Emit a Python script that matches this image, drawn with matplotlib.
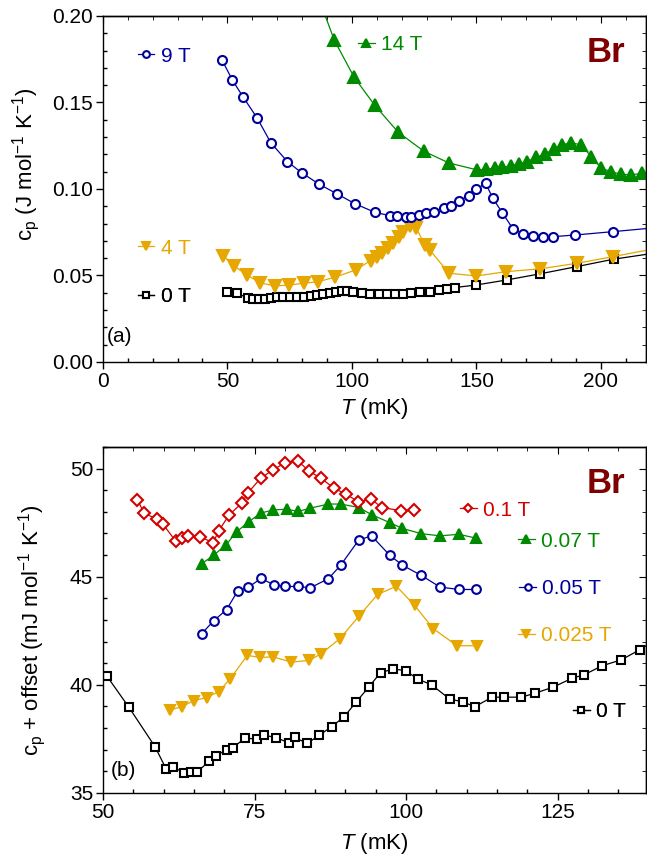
import matplotlib
matplotlib.use("Agg")
import matplotlib.pyplot as plt
from matplotlib.ticker import MultipleLocator, FormatStrFormatter

plt.rcParams['font.family'] = ['Liberation Sans', 'DejaVu Sans']
plt.rcParams['mathtext.fontset'] = 'custom'
plt.rcParams['mathtext.rm'] = 'Liberation Sans'
plt.rcParams['mathtext.it'] = 'Liberation Sans:italic'
plt.rcParams['axes.linewidth'] = 1.0

# (a) cp in J/mol/K versus T in mK
t_0T = [49.8, 54.0, 58.4, 60.4, 62.7, 65.1, 67.4, 69.8, 72.5, 75.1, 77.8, 80.8, 83.4,
        86.1, 88.5, 91.2, 93.6, 95.9, 98.1, 100.5, 103.9, 107.2, 110.8, 114.1, 117.2,
        120.6, 123.9, 127.3, 131.3, 135.0, 138.2, 141.3, 150.0, 162.2, 175.4, 190.3,
        205.1, 222.0]
cp_0T = [0.0406, 0.0397, 0.0368, 0.0362, 0.0362, 0.0362, 0.0372, 0.0374, 0.0378, 0.0378,
         0.0378, 0.0378, 0.0380, 0.0387, 0.0393, 0.0400, 0.0406, 0.0408, 0.0408, 0.0406,
         0.0400, 0.0395, 0.0393, 0.0393, 0.0395, 0.0395, 0.0400, 0.0406, 0.0406, 0.0416,
         0.0420, 0.0430, 0.0445, 0.0474, 0.0509, 0.0551, 0.0594, 0.0630]

t_4T = [48.4, 52.7, 57.8, 63.1, 69.1, 74.9, 80.8, 86.5, 93.2, 101.6, 107.5, 109.9, 111.9,
        114.5, 116.6, 119.0, 120.6, 123.2, 125.9, 129.3, 131.3, 139.0, 150.0, 162.0,
        175.4, 190.3, 205.0, 222.0]
cp_4T = [0.0613, 0.0555, 0.0503, 0.0458, 0.0439, 0.0445, 0.0455, 0.0464, 0.0490, 0.0532,
         0.0586, 0.0605, 0.0628, 0.0657, 0.0686, 0.0720, 0.0753, 0.0786, 0.0773, 0.0676,
         0.0647, 0.0513, 0.0497, 0.0522, 0.0538, 0.0570, 0.0609, 0.0656]

t_9T = [47.8, 52.0, 56.2, 62.0, 67.4, 74.1, 79.8, 86.9, 94.1, 101.2, 109.2, 115.2, 118.3,
        121.6, 123.6, 126.9, 129.9, 132.9, 136.9, 140.0, 143.0, 146.9, 150.0, 153.7,
        156.6, 160.4, 164.7, 168.7, 172.7, 176.7, 180.7, 189.8, 204.7, 222.0]
cp_9T = [0.1746, 0.1630, 0.1534, 0.1409, 0.1268, 0.1158, 0.1094, 0.1027, 0.0971, 0.0915,
         0.0865, 0.0846, 0.0844, 0.0836, 0.0840, 0.0850, 0.0860, 0.0869, 0.0892, 0.0904,
         0.0932, 0.0961, 0.0998, 0.1033, 0.0946, 0.0863, 0.0769, 0.0740, 0.0728, 0.0721,
         0.0724, 0.0734, 0.0753, 0.0776]

t_14T = [85.5, 92.9, 100.9, 109.2, 118.6, 128.9, 139.0, 150.3, 154.0, 157.3, 160.4, 164.0,
         167.3, 170.4, 174.0, 177.4, 181.0, 184.4, 188.0, 192.1, 196.1, 200.1, 204.1,
         208.1, 212.1, 216.7]
cp_14T = [0.215, 0.1861, 0.1646, 0.1483, 0.1328, 0.1218, 0.1150, 0.1110, 0.1114, 0.1120,
          0.1125, 0.1135, 0.1145, 0.1158, 0.1183, 0.1200, 0.1229, 0.1254, 0.1268, 0.1254,
          0.1187, 0.1120, 0.1100, 0.1085, 0.1081, 0.1091]

# (b) cp + offset in mJ/mol/K versus T in mK
tb_0T = [50.7, 54.3, 58.6, 60.4, 61.5, 63.4, 64.5, 65.6, 67.5, 68.6, 70.5, 71.5, 73.4,
         75.4, 76.6, 78.6, 80.7, 81.6, 83.7, 85.7, 87.7, 89.8, 91.8, 93.9, 95.8, 97.9,
         99.9, 101.9, 104.2, 107.2, 109.3, 111.3, 114.2, 116.2, 119.0, 121.2, 124.2,
         127.4, 129.3, 132.3, 135.5, 138.5, 141.5]
cb_0T = [40.39, 38.96, 37.14, 36.13, 36.21, 35.93, 35.98, 35.98, 36.47, 36.72, 37.01,
         37.09, 37.55, 37.48, 37.68, 37.55, 37.32, 37.57, 37.29, 37.68, 38.06, 38.53,
         39.22, 39.92, 40.57, 40.73, 40.66, 40.27, 40.00, 39.34, 39.22, 38.99, 39.43,
         39.43, 39.43, 39.61, 39.89, 40.31, 40.46, 40.88, 41.16, 41.62, 42.15]

tb_025T = [61.1, 63.0, 65.0, 67.1, 69.1, 71.0, 73.8, 75.9, 78.1, 81.1, 84.0, 86.0, 89.1,
           92.2, 95.3, 98.4, 101.4, 104.5, 108.4, 111.7]
cb_025T = [38.84, 38.99, 39.27, 39.41, 39.69, 40.28, 41.36, 41.27, 41.29, 41.05, 41.13,
           41.44, 42.14, 43.17, 44.18, 44.56, 43.67, 42.59, 41.81, 41.81]

tb_05T = [66.3, 68.3, 70.4, 72.2, 74.0, 76.1, 78.2, 80.1, 82.1, 84.2, 87.2, 89.2, 92.2,
          94.3, 97.3, 99.4, 102.5, 105.6, 108.7, 111.6]
cb_05T = [42.37, 42.97, 43.48, 44.33, 44.52, 44.92, 44.62, 44.55, 44.55, 44.49, 44.91,
          45.53, 46.70, 46.89, 45.99, 45.53, 45.06, 44.52, 44.41, 44.41]

tb_07T = [66.3, 68.3, 70.3, 72.1, 74.1, 76.0, 78.1, 80.3, 82.2, 84.2, 87.2, 89.2, 92.2,
          94.3, 97.3, 99.4, 102.5, 105.6, 108.7, 111.6]
cb_07T = [45.60, 46.00, 46.47, 47.09, 47.55, 47.94, 48.09, 48.12, 48.02, 48.17, 48.36,
          48.36, 48.20, 47.87, 47.50, 47.23, 46.99, 46.89, 46.96, 46.78]

tb_1T = [55.7, 56.8, 58.9, 59.9, 62.0, 63.0, 64.1, 66.0, 68.2, 69.1, 70.8, 72.9, 73.9,
         76.0, 78.1, 80.0, 82.1, 84.0, 86.0, 88.1, 90.1, 92.1, 94.2, 96.0, 99.2, 101.3]
cb_1T = [48.56, 47.94, 47.66, 47.43, 46.65, 46.78, 46.89, 46.84, 46.58, 47.12, 47.85,
         48.40, 48.87, 49.55, 49.95, 50.26, 50.37, 49.88, 49.55, 49.09, 48.82, 48.46,
         48.59, 48.20, 48.05, 48.08]

BLACK = 'black'
GOLD = '#e6a700'
BLUE = '#00009c'
GREEN = '#008a00'
RED = '#d40000'
DARKRED = '#7f0000'

fig = plt.figure(figsize=(6.47, 8.61), dpi=100)
ax1 = fig.add_axes([0.159, 0.5796, 0.839, 0.4019])
ax2 = fig.add_axes([0.159, 0.0790, 0.839, 0.4019])


def series(ax, t, c, color, marker, ms, filled, label):
    face = color if filled else 'white'
    line, = ax.plot(t, c, '-', color=color, lw=0.9, marker=marker, ms=ms,
                    mfc=face, mec=color, mew=1.5, label=label)
    return line


def tag(ax, line, x, y, fontsize=15):
    leg = ax.legend(handles=[line], loc='center left', bbox_to_anchor=(x, y),
                    frameon=False, handlelength=0.8, handletextpad=0.3,
                    borderpad=0, borderaxespad=0, numpoints=1, markerscale=0.75,
                    prop={'size': fontsize})
    for txt in leg.get_texts():
        txt.set_color(line.get_color())
    ax.add_artist(leg)


def style(ax, xmaj, xmin, ymaj, ymin):
    ax.xaxis.set_major_locator(MultipleLocator(xmaj))
    ax.xaxis.set_minor_locator(MultipleLocator(xmin))
    ax.yaxis.set_major_locator(MultipleLocator(ymaj))
    ax.yaxis.set_minor_locator(MultipleLocator(ymin))
    ax.tick_params(which='major', direction='out', length=5, width=1, labelsize=15,
                   pad=2)
    ax.tick_params(which='minor', direction='in', length=3, width=1)
    top = ax.secondary_xaxis('top')
    top.xaxis.set_major_locator(MultipleLocator(xmaj))
    top.xaxis.set_minor_locator(MultipleLocator(xmin))
    top.tick_params(which='major', direction='in', length=5, labeltop=False)
    top.tick_params(which='minor', direction='in', length=3, labeltop=False)
    right = ax.secondary_yaxis('right')
    right.yaxis.set_major_locator(MultipleLocator(ymaj))
    right.yaxis.set_minor_locator(MultipleLocator(ymin))
    right.tick_params(which='major', direction='in', length=5, labelright=False)
    right.tick_params(which='minor', direction='in', length=3, labelright=False)


# panel (a)
l0 = series(ax1, t_0T, cp_0T, BLACK, 's', 5.2, False, '0 T')
l4 = series(ax1, t_4T, cp_4T, GOLD, 'v', 8, True, '4 T')
l9 = series(ax1, t_9T, cp_9T, BLUE, 'o', 6.5, False, '9 T')
l14 = series(ax1, t_14T, cp_14T, GREEN, '^', 8, True, '14 T')
ax1.set_xlim(0, 218)
ax1.set_ylim(0, 0.20)
style(ax1, 50, 10, 0.05, 0.01)
ax1.yaxis.set_major_formatter(FormatStrFormatter('%.2f'))
ax1.set_xlabel(r'$\it{T}$ (mK)', fontsize=16, labelpad=4)
ax1.set_ylabel(r'c$_\mathrm{p}$ (J mol$^{-1}$ K$^{-1}$)', fontsize=16)
ax1.yaxis.set_label_coords(-0.113, 0.57)
tag(ax1, l9, 0.064, 0.884)
tag(ax1, l14, 0.470, 0.918)
tag(ax1, l4, 0.064, 0.329)
tag(ax1, l0, 0.064, 0.188)
ax1.text(0.927, 0.893, 'Br', transform=ax1.transAxes, color=DARKRED,
         fontsize=25, fontweight='bold', ha='center', va='center')
ax1.text(0.008, 0.075, '(a)', transform=ax1.transAxes, fontsize=15, va='center')

# panel (b)
m0 = series(ax2, tb_0T, cb_0T, BLACK, 's', 5.2, False, '0 T')
m025 = series(ax2, tb_025T, cb_025T, GOLD, 'v', 7.5, True, '0.025 T')
m05 = series(ax2, tb_05T, cb_05T, BLUE, 'o', 6.3, False, '0.05 T')
m07 = series(ax2, tb_07T, cb_07T, GREEN, '^', 7.5, True, '0.07 T')
m1 = series(ax2, tb_1T, cb_1T, RED, 'D', 5.8, False, '0.1 T')
ax2.set_xlim(50, 139.5)
ax2.set_ylim(35, 51)
style(ax2, 25, 5, 5, 1)
ax2.set_xlabel(r'$\it{T}$ (mK)', fontsize=16, labelpad=7)
ax2.set_ylabel(r'c$_\mathrm{p}$ + offset (mJ mol$^{-1}$ K$^{-1}$)', fontsize=16)
ax2.yaxis.set_label_coords(-0.102, 0.47)
tag(ax2, m1, 0.658, 0.817)
tag(ax2, m07, 0.765, 0.728)
tag(ax2, m05, 0.767, 0.591)
tag(ax2, m025, 0.765, 0.455)
tag(ax2, m0, 0.866, 0.235)
ax2.text(0.926, 0.895, 'Br', transform=ax2.transAxes, color=DARKRED,
         fontsize=25, fontweight='bold', ha='center', va='center')
ax2.text(0.014, 0.065, '(b)', transform=ax2.transAxes, fontsize=15, va='center')

fig.savefig('out.png', dpi=100)
